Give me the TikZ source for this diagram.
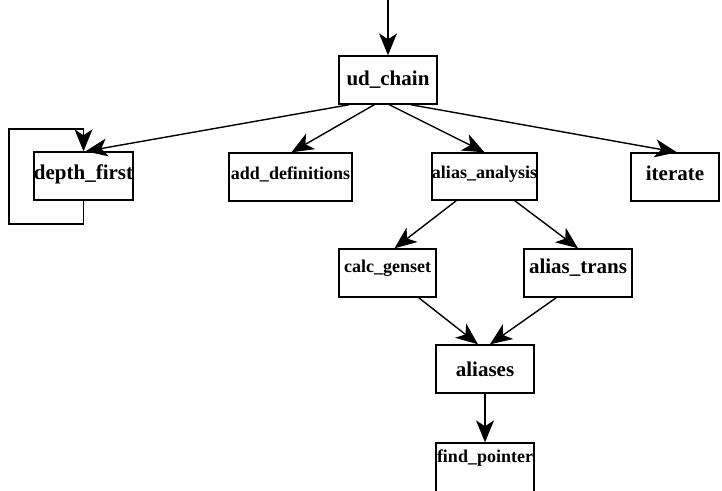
\documentclass[tikz,border=0pt]{standalone}
\usepackage{fontspec}
\setmainfont{Liberation Serif}
\usetikzlibrary{arrows.meta}
\begin{document}
\begin{tikzpicture}[x=1pt,y=-1pt,
  box/.style={draw,line width=1.4pt,rectangle,inner sep=0pt,align=center},
  big/.style={font=\fontsize{21}{21}\selectfont\bfseries},
  small/.style={font=\fontsize{18}{18}\selectfont\bfseries},
  link/.style={line width=1.4pt,-{Stealth[length=22pt,width=18pt,inset=6pt]}}]
\useasboundingbox (0,0) rectangle (722,490);
\clip (0,0) rectangle (722,490);

% procedure boxes
\node[box,big,minimum width=98pt,minimum height=48pt] (ud) at (388,80) {ud\_chain};
\node[box,big,minimum width=99pt,minimum height=48pt,text depth=8pt] (df) at (83.5,176) {depth\_first};
\node[box,small,minimum width=123pt,minimum height=48pt,text depth=8pt] (ad) at (290.5,177) {add\_definitions};
\node[box,small,minimum width=99pt,minimum height=47pt,text depth=8pt] (aa) at (484.5,176.5) {alias\_analysis};
\node[box,big,minimum width=88pt,minimum height=48pt,text depth=8pt] (it) at (675,177) {iterate};
\node[box,small,minimum width=97pt,minimum height=48pt,text depth=14pt] (cg) at (387.5,273) {calc\_genset};
\node[box,big,minimum width=108pt,minimum height=48pt,text depth=14pt] (at) at (578,273) {alias\_trans};
\node[box,big,minimum width=98pt,minimum height=48pt] (al) at (485,369) {aliases};
\node[box,small,minimum width=98pt,minimum height=60pt,text depth=34pt] (fp) at (485,473) {find\_pointer};

% entry into the call graph
\coordinate (entry) at (388,0);
\draw[link] (entry) -- (ud.north);

% calls from ud_chain
\draw[link] ([xshift=11pt]ud.south west) -- ([xshift=2pt]df.north);
\draw[link] ([xshift=36pt]ud.south west) -- ([xshift=1pt]ad.north);
\draw[link] ([xshift=51pt]ud.south west) -- (aa.north);
\draw[link] ([xshift=-27pt]ud.south east) -- ([xshift=2pt]it.north);

% recursive call of depth_first
\coordinate (l1) at (83.5,224);
\coordinate (l2) at (9,224);
\coordinate (l3) at (9,129);
\coordinate (l4) at (83.5,129);
\draw[line width=1.4pt] (df.south) -- (l1) -- (l2) -- (l3) -- (l4);
\draw[link] (l4) -- (df.north);

% calls from alias_analysis
\draw[link] ([xshift=25pt]aa.south west) -- ([xshift=7pt]cg.north);
\draw[link] ([xshift=-23pt]aa.south east) -- (at.north);

% calls into aliases
\draw[link] ([xshift=-18pt]cg.south east) -- ([xshift=-7pt]al.north);
\draw[link] ([xshift=33pt]at.south west) -- ([xshift=5pt]al.north);

% aliases calls find_pointer
\draw[link] (al.south) -- (fp.north);
\end{tikzpicture}
\end{document}
